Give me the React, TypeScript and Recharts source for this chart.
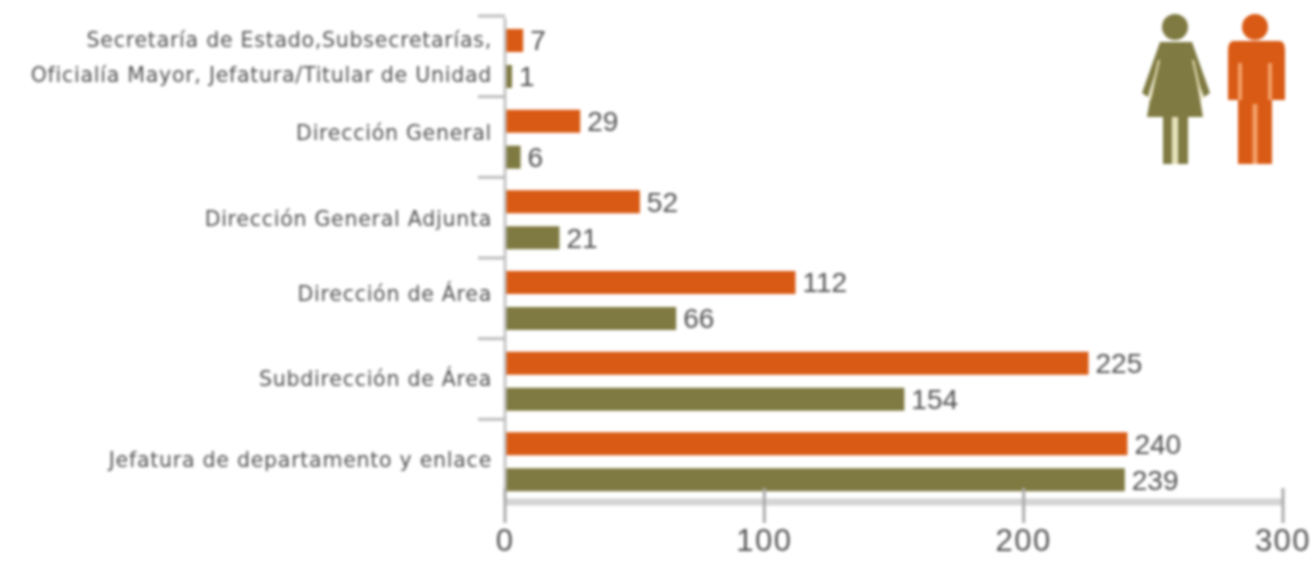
import { BarChart, Bar, XAxis, YAxis, LabelList } from "recharts"

const categories = [
  "Secretaría de Estado,Subsecretarías,|Oficialía Mayor, Jefatura/Titular de Unidad",
  "Dirección General",
  "Dirección General Adjunta",
  "Dirección de Área",
  "Subdirección de Área",
  "Jefatura de departamento y enlace",
]
const hombres = [7, 29, 52, 112, 225, 240]
const mujeres = [1, 6, 21, 66, 154, 239]
const xTicks = [0, 100, 200, 300]

const ORANGE = "#d95a14"
const OLIVE = "#7f7a42"
const BAND = 80.67
// the labels in the original do not sit exactly on the band centre
const labelNudge = [0, -5, 0, -5, -1, -1]

const data = categories.map((name, i) => ({
  name,
  hombres: hombres[i],
  mujeres: mujeres[i],
}))

function CategoryTick({ x, y, payload, index }: any) {
  const lines = String(payload.value).split("|")
  return (
    <g>
      <line x1={x - 14} x2={x + 13} y1={y - BAND / 2 - 2} y2={y - BAND / 2 - 2} stroke="#bcbcbc" strokeWidth={3} />
      {lines.map((t, i) => (
        <text
          key={t}
          x={x}
          y={y + labelNudge[index] + (lines.length > 1 ? (i === 0 ? -17 : 18) : 0)}
          dy={6}
          textAnchor="end"
          fontSize={20.5}
          letterSpacing={0.75}
          fill="#505050"
          fontFamily="DejaVu Sans"
        >
          {t}
        </text>
      ))}
    </g>
  )
}

function ValueTick({ x, y, payload }: any) {
  return (
    <g>
      <line x1={x} x2={x} y1={y - 14} y2={y + 21} stroke="#aaa" strokeWidth={3} />
      <text x={x} y={y + 49} textAnchor="middle" fontSize={31} letterSpacing={1.5} fill="#505050" fontFamily="Liberation Sans">
        {payload.value}
      </text>
    </g>
  )
}

function Woman() {
  return (
    <g>
      <circle cx={1175} cy={27} r={13} fill={OLIVE} />
      <path
        fill={OLIVE}
        d="M1160 42 H1192 L1210 93 L1204 97 L1196 76 L1203 117 H1188 V164 H1178 V117 H1172 V164 H1163 V117 H1147 L1154 76 L1148 97 L1142 93 Z"
      />
      <path d="M1159 60 L1150 100 M1193 60 L1202 100" stroke="#e4dfb4" strokeWidth={2} fill="none" />
      <path d="M1175 117 V164" stroke="#e4dfb4" strokeWidth={5} />
    </g>
  )
}

function Man() {
  return (
    <g>
      <circle cx={1255} cy={27} r={13} fill={ORANGE} />
      <path
        fill={ORANGE}
        d="M1234 41 H1279 Q1285 41 1285 50 V100 H1272 V164 H1238 V100 H1228 V50 Q1228 41 1234 41 Z"
      />
      <path d="M1240 63 V100 M1270 63 V100" stroke="#f3a06a" strokeWidth={4} />
      <path d="M1255 104 V164" stroke="#f3a06a" strokeWidth={5} />
    </g>
  )
}

export default function App() {
  return (
    <div style={{ position: "absolute", left: 0, top: 0, width: 1316, height: 561, background: "#fff", filter: "blur(1.4px)" }}>
      <BarChart
        width={1316}
        height={561}
        data={data}
        layout="vertical"
        barSize={23}
        barGap={13}
        barCategoryGap={12}
        margin={{ top: 18, right: 33, bottom: 0, left: 0 }}
      >
        <XAxis
          type="number"
          domain={[0, 300]}
          ticks={xTicks}
          height={59}
          tickLine={false}
          tick={<ValueTick />}
          tickMargin={0}
          tickSize={0}
          axisLine={{ stroke: "#d4d4d4", strokeWidth: 7 }}
        />
        <YAxis
          type="category"
          dataKey="name"
          width={505}
          interval={0}
          tickLine={false}
          tick={<CategoryTick />}
          tickMargin={0}
          tickSize={13}
          axisLine={{ stroke: "#c4c4c4", strokeWidth: 3 }}
        />
        <Bar dataKey="hombres" fill={ORANGE} isAnimationActive={false}>
          <LabelList dataKey="hombres" position="right" offset={7} fontSize={28} fill="#505050" fontFamily="Liberation Sans" />
        </Bar>
        <Bar dataKey="mujeres" fill={OLIVE} minPointSize={7} isAnimationActive={false}>
          <LabelList dataKey="mujeres" position="right" offset={7} fontSize={28} fill="#505050" fontFamily="Liberation Sans" />
        </Bar>
      </BarChart>
      <svg width={1316} height={561} style={{ position: "absolute", left: 0, top: 0 }}>
        <Woman />
        <Man />
      </svg>
    </div>
  )
}
